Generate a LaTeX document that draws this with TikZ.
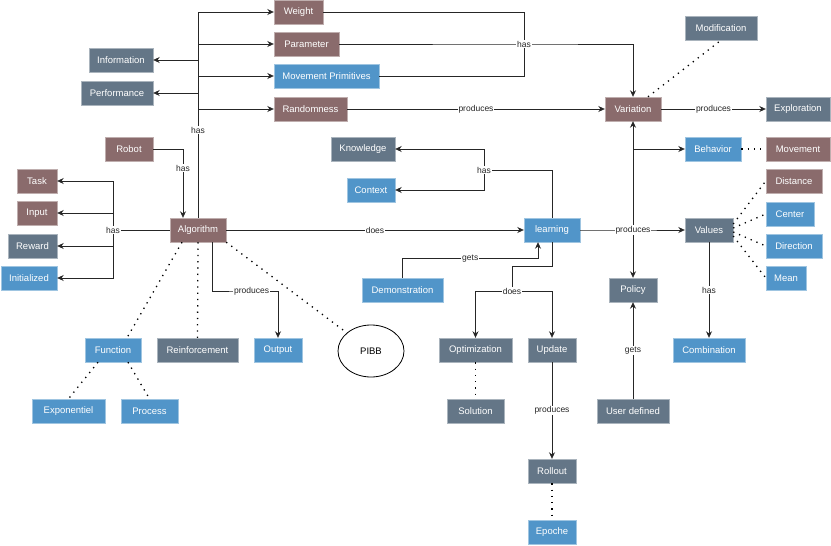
\documentclass[tikz,border=0pt]{standalone}
\usepackage{fontspec}
\setmainfont{Liberation Sans}
\usepackage{tikz}
\usetikzlibrary{shapes,arrows.meta,positioning,calc}
\definecolor{conceptbrown}{HTML}{8A6B6C}
\definecolor{conceptslate}{HTML}{647687}
\definecolor{conceptblue}{HTML}{5195C9}
\tikzstyle{concept} = [rectangle,inner sep=0pt,minimum height=24pt,text=white,font=\fontsize{9.5}{11}\selectfont]
\tikzstyle{brownc} = [concept,fill=conceptbrown,draw=conceptbrown!55!white]
\tikzstyle{slatec} = [concept,fill=conceptslate,draw=conceptslate!55!white]
\tikzstyle{bluec} = [concept,fill=conceptblue,draw=conceptblue!55!white]
\tikzstyle{lbl} = [fill=white,inner sep=1pt,text=black!85,font=\fontsize{8.5}{10}\selectfont]
\tikzstyle{link} = [draw=black!85,line width=0.8pt]
\tikzstyle{assoc} = [draw=black,line width=1.3pt,dash pattern=on 1.3pt off 5pt]
\tikzset{>={Stealth[length=6.5pt,width=6pt]}}

\begin{document}
\begin{tikzpicture}[x=1pt,y=-1pt]
    \useasboundingbox (0,0) rectangle (831,546);

    % top row: what the algorithm has
    \node [brownc,minimum width=49pt] (weight) at (298.5,12) {Weight};
    \node [brownc,minimum width=65pt] (parameter) at (306.5,44) {Parameter};
    \node [bluec,minimum width=105pt] (movprim) at (326.5,76) {Movement Primitives};
    \node [brownc,minimum width=73pt] (random) at (310.5,109) {Randomness};
    \node [slatec,minimum width=64pt] (info) at (121,60) {Information};
    \node [slatec,minimum width=72pt] (perf) at (117,93) {Performance};
    \node [brownc,minimum width=48pt] (robot) at (129,149) {Robot};

    % left column
    \node [brownc,minimum width=40pt] (task) at (37,181) {Task};
    \node [brownc,minimum width=40pt] (input) at (37,213) {Input};
    \node [slatec,minimum width=49pt] (reward) at (32.5,246) {Reward};
    \node [bluec,minimum width=56pt] (init) at (29,278) {Initialized};

    \node [brownc,minimum width=56pt] (algo) at (198,230) {Algorithm};
    \node [bluec,minimum width=56pt] (function) at (113,350) {Function};
    \node [slatec,minimum width=81pt] (reinf) at (197.5,350) {Reinforcement};
    \node [bluec,minimum width=48pt] (output) at (278,350) {Output};
    \node [ellipse,draw,line width=0.8pt,fill=white,minimum width=66pt,minimum height=52pt,inner sep=0pt,font=\fontsize{9.5}{11}\selectfont] (pibb) at (371,351) {PIBB};
    \node [bluec,minimum width=73pt] (expo) at (68.5,411) {Exponentiel};
    \node [bluec,minimum width=57pt] (process) at (149.5,411) {Process};

    % middle
    \node [slatec,minimum width=64pt] (knowledge) at (363,149) {Knowledge};
    \node [bluec,minimum width=48pt] (context) at (371,190) {Context};
    \node [bluec,minimum width=56pt] (learning) at (552,230) {learning};
    \node [bluec,minimum width=81pt] (demo) at (402.5,290) {Demonstration};
    \node [slatec,minimum width=73pt] (optim) at (475.5,350) {Optimization};
    \node [slatec,minimum width=48pt] (update) at (552,350) {Update};
    \node [slatec,minimum width=57pt] (solution) at (475.5,411) {Solution};
    \node [slatec,minimum width=48pt] (rollout) at (552,471) {Rollout};
    \node [bluec,minimum width=48pt] (epoche) at (552,532) {Epoche};

    % right
    \node [brownc,minimum width=56pt] (variation) at (633,109) {Variation};
    \node [slatec,minimum width=72pt] (modif) at (721,28) {Modification};
    \node [slatec,minimum width=64pt] (explor) at (798,109) {Exploration};
    \node [bluec,minimum width=56pt] (behavior) at (713,149) {Behavior};
    \node [brownc,minimum width=64pt] (movement) at (798,149) {Movement};
    \node [slatec,minimum width=48pt] (policy) at (633,290) {Policy};
    \node [slatec,minimum width=72pt] (userdef) at (633,411) {User defined};
    \node [slatec,minimum width=48pt] (values) at (709,230) {Values};
    \node [brownc,minimum width=56pt] (distance) at (794,181) {Distance};
    \node [bluec,minimum width=48pt] (center) at (790,214) {Center};
    \node [bluec,minimum width=56pt] (direction) at (794,246) {Direction};
    \node [bluec,minimum width=40pt] (mean) at (786,278) {Mean};
    \node [bluec,minimum width=72pt] (combin) at (709,350) {Combination};

    \coordinate (hasleft) at (113,230);
    \coordinate (hasvar) at (524,44);
    \coordinate (haslrn) at (484,170);
    \coordinate (doeslrn) at (512,291);
    \coordinate (prodlrn) at (633,230);

    % algorithm has ...
    \draw [link,->] (algo.north) |- (weight.west);
    \draw [link,->] (algo.north) |- (parameter.west);
    \draw [link,->] (algo.north) |- (movprim.west);
    \draw [link,->] (algo.north) |- (random.west);
    \draw [link,->] (algo.north) |- (info.east);
    \draw [link,->] (algo.north) |- (perf.east);
    \node [lbl] at (198,130) {has};
    \draw [link,->] (robot.east) -| node [lbl,pos=0.64] {has} ([xshift=-15pt]algo.north);

    \draw [link,->] (hasleft) |- (task.east);
    \draw [link,->] (hasleft) |- (input.east);
    \draw [link,->] (hasleft) |- (reward.east);
    \draw [link,->] (hasleft) |- (init.east);
    \draw [link] (algo.west) -- (hasleft) node [lbl] {has};

    \draw [link,->] (algo.east) -- node [lbl] {does} (learning.west);
    \draw [link,->] ([xshift=14pt]algo.south) |- (245,291) -| node [lbl,pos=0.1] {produces} (output.north);
    \draw [assoc] ([xshift=-16pt]algo.south) -- ([xshift=14pt]function.north);
    \draw [assoc] (algo.south) -- (reinf.north);
    \draw [assoc] (algo.south east) -- (pibb);
    \draw [assoc] ([xshift=-15pt]function.south) -- (expo.north);
    \draw [assoc] ([xshift=15pt]function.south) -- (process.north);

    % towards variation
    \draw [link] (weight.east) -| (hasvar);
    \draw [link] (movprim.east) -| (hasvar);
    \draw [link,->] (parameter.east) -- (hasvar) -| (variation.north);
    \node [lbl] at (hasvar) {has};
    \draw [link,->] (random.east) -- node [lbl] {produces} (variation.west);
    \draw [link,->] (variation.east) -- node [lbl] {produces} (explor.west);
    \draw [assoc] ([xshift=15pt]variation.north) -- (modif.south);
    \draw [assoc] (behavior.east) -- (movement.west);

    % learning
    \draw [link,->] (haslrn) |- (knowledge.east);
    \draw [link,->] (haslrn) |- (context.east);
    \draw [link] (learning.north) |- (haslrn) node [lbl] {has};
    \draw [link,->] (demo.north) -- ++(0,-19) -| node [lbl,pos=0.25] {gets} ([xshift=-14pt]learning.south);
    \draw [link,->] (doeslrn) -| (optim.north);
    \draw [link,->] (doeslrn) -| (update.north);
    \draw [link] (learning.south) -- ++(0,24) -| (doeslrn) node [lbl] {does};
    \draw [assoc] (optim.south) -- (solution.north);
    \draw [link,->] (update.south) -- node [lbl] {produces} (rollout.north);
    \draw [assoc] (rollout.south) -- (epoche.north);

    \draw [link,->] (prodlrn) -- (variation.south);
    \draw [link,->] (prodlrn) -- (policy.north);
    \draw [link,->] (prodlrn) |- (behavior.west);
    \draw [link,->] (learning.east) -- (prodlrn) node [lbl] {produces} -- (values.west);
    \draw [link,->] (userdef.north) -- node [lbl] {gets} (policy.south);

    % values
    \draw [assoc] ([yshift=6pt]values.east) -- (distance.west);
    \draw [assoc] ([yshift=2pt]values.east) -- (center.west);
    \draw [assoc] ([yshift=-2pt]values.east) -- (direction.west);
    \draw [assoc] ([yshift=-6pt]values.east) -- (mean.west);
    \draw [link,->] (values.south) -- node [lbl] {has} (combin.north);
  \end{tikzpicture}
\end{document}
